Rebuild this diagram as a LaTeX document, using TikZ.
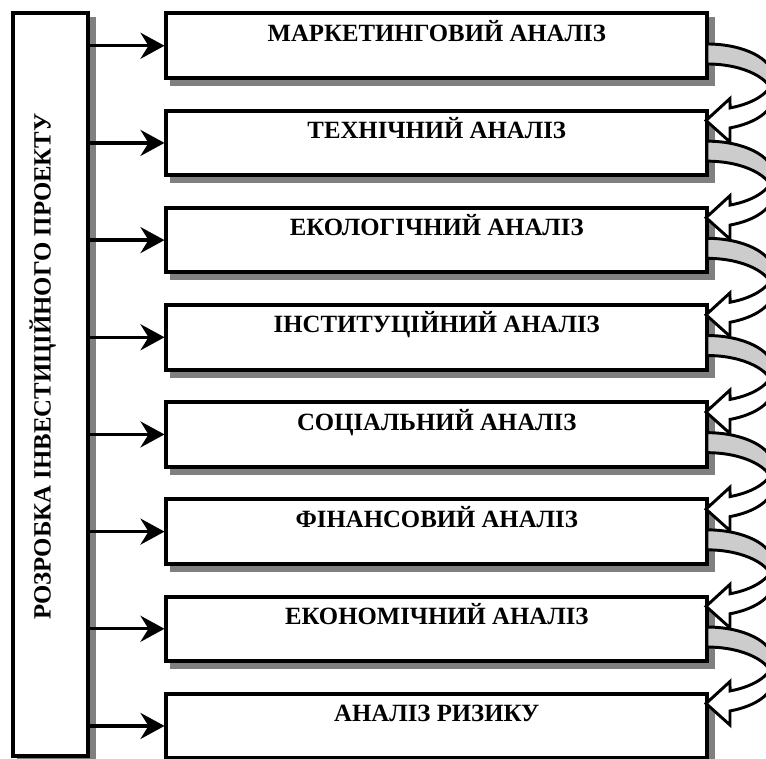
\documentclass[tikz,border=0pt]{standalone}
\usepackage{fontspec}
\setmainfont{Liberation Serif}
\usetikzlibrary{arrows.meta}
\definecolor{shadowgray}{RGB}{128,128,128}
\definecolor{bandgray}{RGB}{204,204,204}
\pgfdeclarelayer{bg}
\pgfsetlayers{bg,main}
\tikzset{
  box/.style={draw, line width=3pt, fill=white, rectangle, inner sep=0pt, outer sep=0pt, font=\bfseries\fontsize{18.6}{21}\selectfont},
  rbox/.style={box, minimum width=405.4pt, minimum height=48.4pt, text height=12.3pt, text depth=18.9pt},
  lbox/.style={box, rotate=90, minimum width=557.25pt, minimum height=56.25pt, text height=12.3pt, text depth=12.3pt},
  shade/.style={fill=shadowgray},
  conn/.style={line width=2.5pt, -{Stealth[length=18pt,width=19.5pt,inset=6pt]}, shorten >=1.5pt},
  bandback/.style={fill=bandgray, draw, line width=2.2pt, miter limit=10},
  bandfront/.style={fill=white, draw, line width=2.2pt, miter limit=10},
}
\newcommand{\curvedarrow}[1]{%
  \begin{scope}[shift={(#1.north east)}]
    \path[bandback] (0,30.5) arc[start angle=-90, end angle=0, x radius=66, y radius=33]
      -- (66,83.5) arc[start angle=0, end angle=-90, x radius=66, y radius=33] -- cycle;
    \path[bandfront] (66,63.5) arc[start angle=0, end angle=69.6, x radius=66, y radius=33]
      -- (23,85) -- (-1,107) -- (23,128.5) -- (23,114.43)
      arc[start angle=69.6, end angle=0, x radius=66, y radius=33] -- cycle;
  \end{scope}}
\begin{document}
\begin{tikzpicture}[x=0.75pt, y=-0.75pt]
  \useasboundingbox (0,0) rectangle (766,758);
  \clip (0,0) rectangle (766,758);
  \node[lbox] (L) at (50.5,384.5) {\hspace*{27pt}РОЗРОБКА ІНВЕСТИЦІЙНОГО ПРОЕКТУ};
  \node[rbox] (b1) at (436.75,45.75) {МАРКЕТИНГОВИЙ АНАЛІЗ};
  \node[rbox] (b2) at (436.75,142.92) {ТЕХНІЧНИЙ АНАЛІЗ};
  \node[rbox] (b3) at (436.75,240.09) {ЕКОЛОГІЧНИЙ АНАЛІЗ};
  \node[rbox] (b4) at (436.75,337.26) {ІНСТИТУЦІЙНИЙ АНАЛІЗ};
  \node[rbox] (b5) at (436.75,434.43) {СОЦІАЛЬНИЙ АНАЛІЗ};
  \node[rbox] (b6) at (436.75,531.6) {ФІНАНСОВИЙ АНАЛІЗ};
  \node[rbox] (b7) at (436.75,628.77) {ЕКОНОМІЧНИЙ АНАЛІЗ};
  \node[rbox] (b8) at (436.75,725.94) {АНАЛІЗ РИЗИКУ};
  \begin{pgfonlayer}{bg}
    \fill[shade] ([shift={(4,4)}]L.north east) rectangle ([shift={(8,8)}]L.south west);
    \foreach \b in {b1,b2,b3,b4,b5,b6,b7,b8}
      \fill[shade] ([shift={(4,4)}]\b.north west) rectangle ([shift={(8,8)}]\b.south east);
  \end{pgfonlayer}
  \foreach \b in {b1,b2,b3,b4,b5,b6,b7,b8}
    \draw[conn] (L.south |- \b.west) -- (\b.west);
  \curvedarrow{b1}
  \curvedarrow{b2}
  \curvedarrow{b3}
  \curvedarrow{b4}
  \curvedarrow{b5}
  \curvedarrow{b6}
  \curvedarrow{b7}
\end{tikzpicture}
\end{document}
